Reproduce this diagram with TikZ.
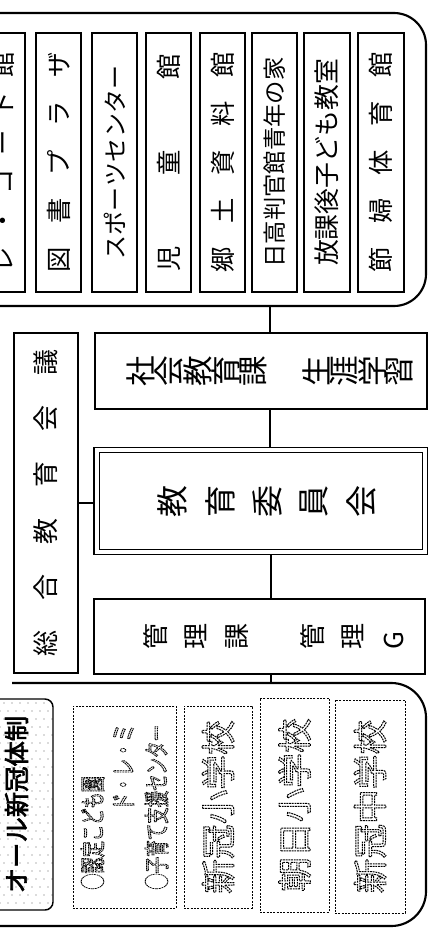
\documentclass[tikz,border=0pt]{standalone}
\usepackage{fontspec}
\setmainfont{Noto Sans CJK JP}
\usepackage{graphicx}
\newcommand\rc[1]{\rotatebox{90}{#1}}
\newcommand\outl[1]{\special{pdf:literal direct 1 Tr 0.75 w [1.4 0.6] 0 d}#1\special{pdf:literal direct 0 Tr [] 0 d}}
\newcommand\boldtx[1]{\special{pdf:literal direct 2 Tr 0.5 w}#1\special{pdf:literal direct 0 Tr}}
\newcommand\bx[7][]{\node[#2,#1, minimum width={(#5-#3)*0.75pt}, minimum height={(#6-#4)*0.75pt}] (#7) at ({(#3+#5)/2},{(#4+#6)/2})}
\tikzset{
 frame/.style={line width=1.6pt},
 ibox/.style={draw, line width=1.1pt, inner sep=0pt, rectangle},
 dbox/.style={draw, line width=0.7pt, inner sep=0pt, rectangle, dash pattern=on 1.6pt off 0.9pt},
 dblbox/.style={draw, double, double distance=3pt, line width=0.9pt, inner sep=0pt, rectangle},
 conn/.style={line width=0.8pt},
 f16/.style={font=\fontsize{19pt}{19pt}\selectfont},
 f17/.style={font=\fontsize{18pt}{18pt}\selectfont},
 f175/.style={font=\fontsize{17.5pt}{17.5pt}\selectfont},
 f19/.style={font=\fontsize{19.4pt}{19.4pt}\selectfont},
}
\begin{document}
\begin{tikzpicture}[x=0.75pt,y=-0.75pt]
\useasboundingbox (0,0) rectangle (428,928);
\fill[white] (0,0) rectangle (428,928);
\clip (0,0) rectangle (428,928);

% ---------- top frame ----------
\draw[frame, rounded corners=24pt] (-40,13) -- (426,13) -- (426,306) -- (-40,306);
\coordinate (tf) at (270,306);

\bx{ibox,f16}{-20}{33}{25}{292}{b1}{\rc{\hbox to 165pt{レ\hfil ・\hfil コ\hfil ー\hfil ド\hfil 館}}};
\bx{ibox,f16}{36}{33}{81}{292}{b2}{\rc{\hbox to 165pt{図\hfil 書\hfil プ\hfil ラ\hfil ザ}}};
\bx{ibox,f17}{92}{33}{137}{292}{b3}{\rc{\hbox to 146pt{ス\hfil ポ\hfil ー\hfil ツ\hfil セ\hfil ン\hfil タ\hfil ー}}};
\bx{ibox,f16}{146}{33}{191}{292}{b4}{\rc{\hbox to 163pt{児\hfil 童\hfil 館}}};
\bx{ibox,f16}{200}{33}{245}{292}{b5}{\rc{\hbox to 165pt{郷\hfil 土\hfil 資\hfil 料\hfil 館}}};
\bx{ibox,f175}{252}{33}{297}{292}{b6}{\rc{日高判官館青年の家}};
\bx{ibox,f19}{304}{33}{350}{292}{b7}{\rc{放課後子ども教室}};
\bx{ibox,f16}{358}{33}{404}{292}{b8}{\rc{\hbox to 165pt{節\hfil 婦\hfil 体\hfil 育\hfil 館}}};

% ---------- middle ----------
\bx{ibox,font=\fontsize{19.5pt}{19.5pt}\selectfont}{14}{333}{78}{673}{sogo}{\rc{\hbox to 230pt{総\hfil 合\hfil 教\hfil 育\hfil 会\hfil 議}}};
\bx{ibox,font=\fontsize{23pt}{23pt}\selectfont}{95}{333}{427}{409}{shakai}{\hbox{\hspace{13.5pt}\rc{社}\rc{会}\rc{教}\rc{育}\rc{課}\hspace{27pt}\rc{生}\rc{涯}\rc{学}\rc{習}}};
\bx{dblbox,font=\fontsize{24pt}{24pt}\selectfont}{96.5}{450}{425}{552}{kyoiku}{\hbox{\hspace{9pt}\rc{教}\hspace{13.5pt}\rc{育}\hspace{13.5pt}\rc{委}\hspace{13.5pt}\rc{員}\hspace{13.5pt}\rc{会}}};
\bx{ibox,font=\fontsize{19.5pt}{19.5pt}\selectfont}{94}{599}{425}{674}{kanri}{\hbox{\hspace{21pt}\rc{管}\hspace{13.5pt}\rc{理}\hspace{13.5pt}\rc{課}\hspace{39pt}\rc{管}\hspace{13.5pt}\rc{理}\hspace{15pt}\rc{G}}};

% ---------- bottom frame ----------
\draw[frame, rounded corners=26pt] (12,683) -- (426,683) -- (426,926) -- (-10,926);
\coordinate (bf) at (271,683);

\begin{scope}
\clip[rounded corners=6pt] (-20,699) rectangle (53,910);
\foreach \r in {0,...,26}{
  \foreach \c in {0,...,9}{
    \fill[black!60] ({-20+\c*8+mod(\r,2)*4},{703+\r*8}) circle (0.7);
  }
}
\end{scope}
\bx{ibox,rounded corners=6pt,font=\fontsize{19pt}{19pt}\selectfont}{-20}{699}{53}{910}{zentai}{\rc{\boldtx{オール新冠体制}}};

\bx{dbox,font=\fontsize{19pt}{23pt}\selectfont}{73}{706}{176}{908}{kodomo}{\rc{\vbox{\hbox to 124pt{\scalebox{0.64}[1]{\outl{●認定こども園}}\hfil}\hbox to 124pt{\hfil\scalebox{0.68}[1]{\outl{ド・レ・ミ}}}\vskip 2pt\hbox to 124pt{\scalebox{0.65}[1]{\outl{●子育て支援センター}}\hfil}}}};
\bx{dbox,font=\fontsize{26pt}{26pt}\selectfont}{184}{706}{252}{908}{niisho}{\rc{\outl{新冠小学校}}};
\bx{dbox,font=\fontsize{26pt}{26pt}\selectfont}{260}{698}{329}{912}{asahi}{\rc{\outl{朝日小学校}}};
\bx{dbox,font=\fontsize{26pt}{26pt}\selectfont}{335}{700}{405}{913}{niichu}{\rc{\outl{新冠中学校}}};

% ---------- connectors ----------
\draw[conn] (tf) -- (tf |- shakai.north);
\draw[conn, shorten >=2pt] (tf |- shakai.south) -- (tf |- kyoiku.north);
\draw[conn, shorten <=2pt] (bf |- kyoiku.south) -- (bf |- kanri.north);
\draw[conn] (bf |- kanri.south) -- (bf);
\draw[conn, shorten >=2pt] (sogo.east) -- (sogo.east -| kyoiku.west);
\end{tikzpicture}
\end{document}
